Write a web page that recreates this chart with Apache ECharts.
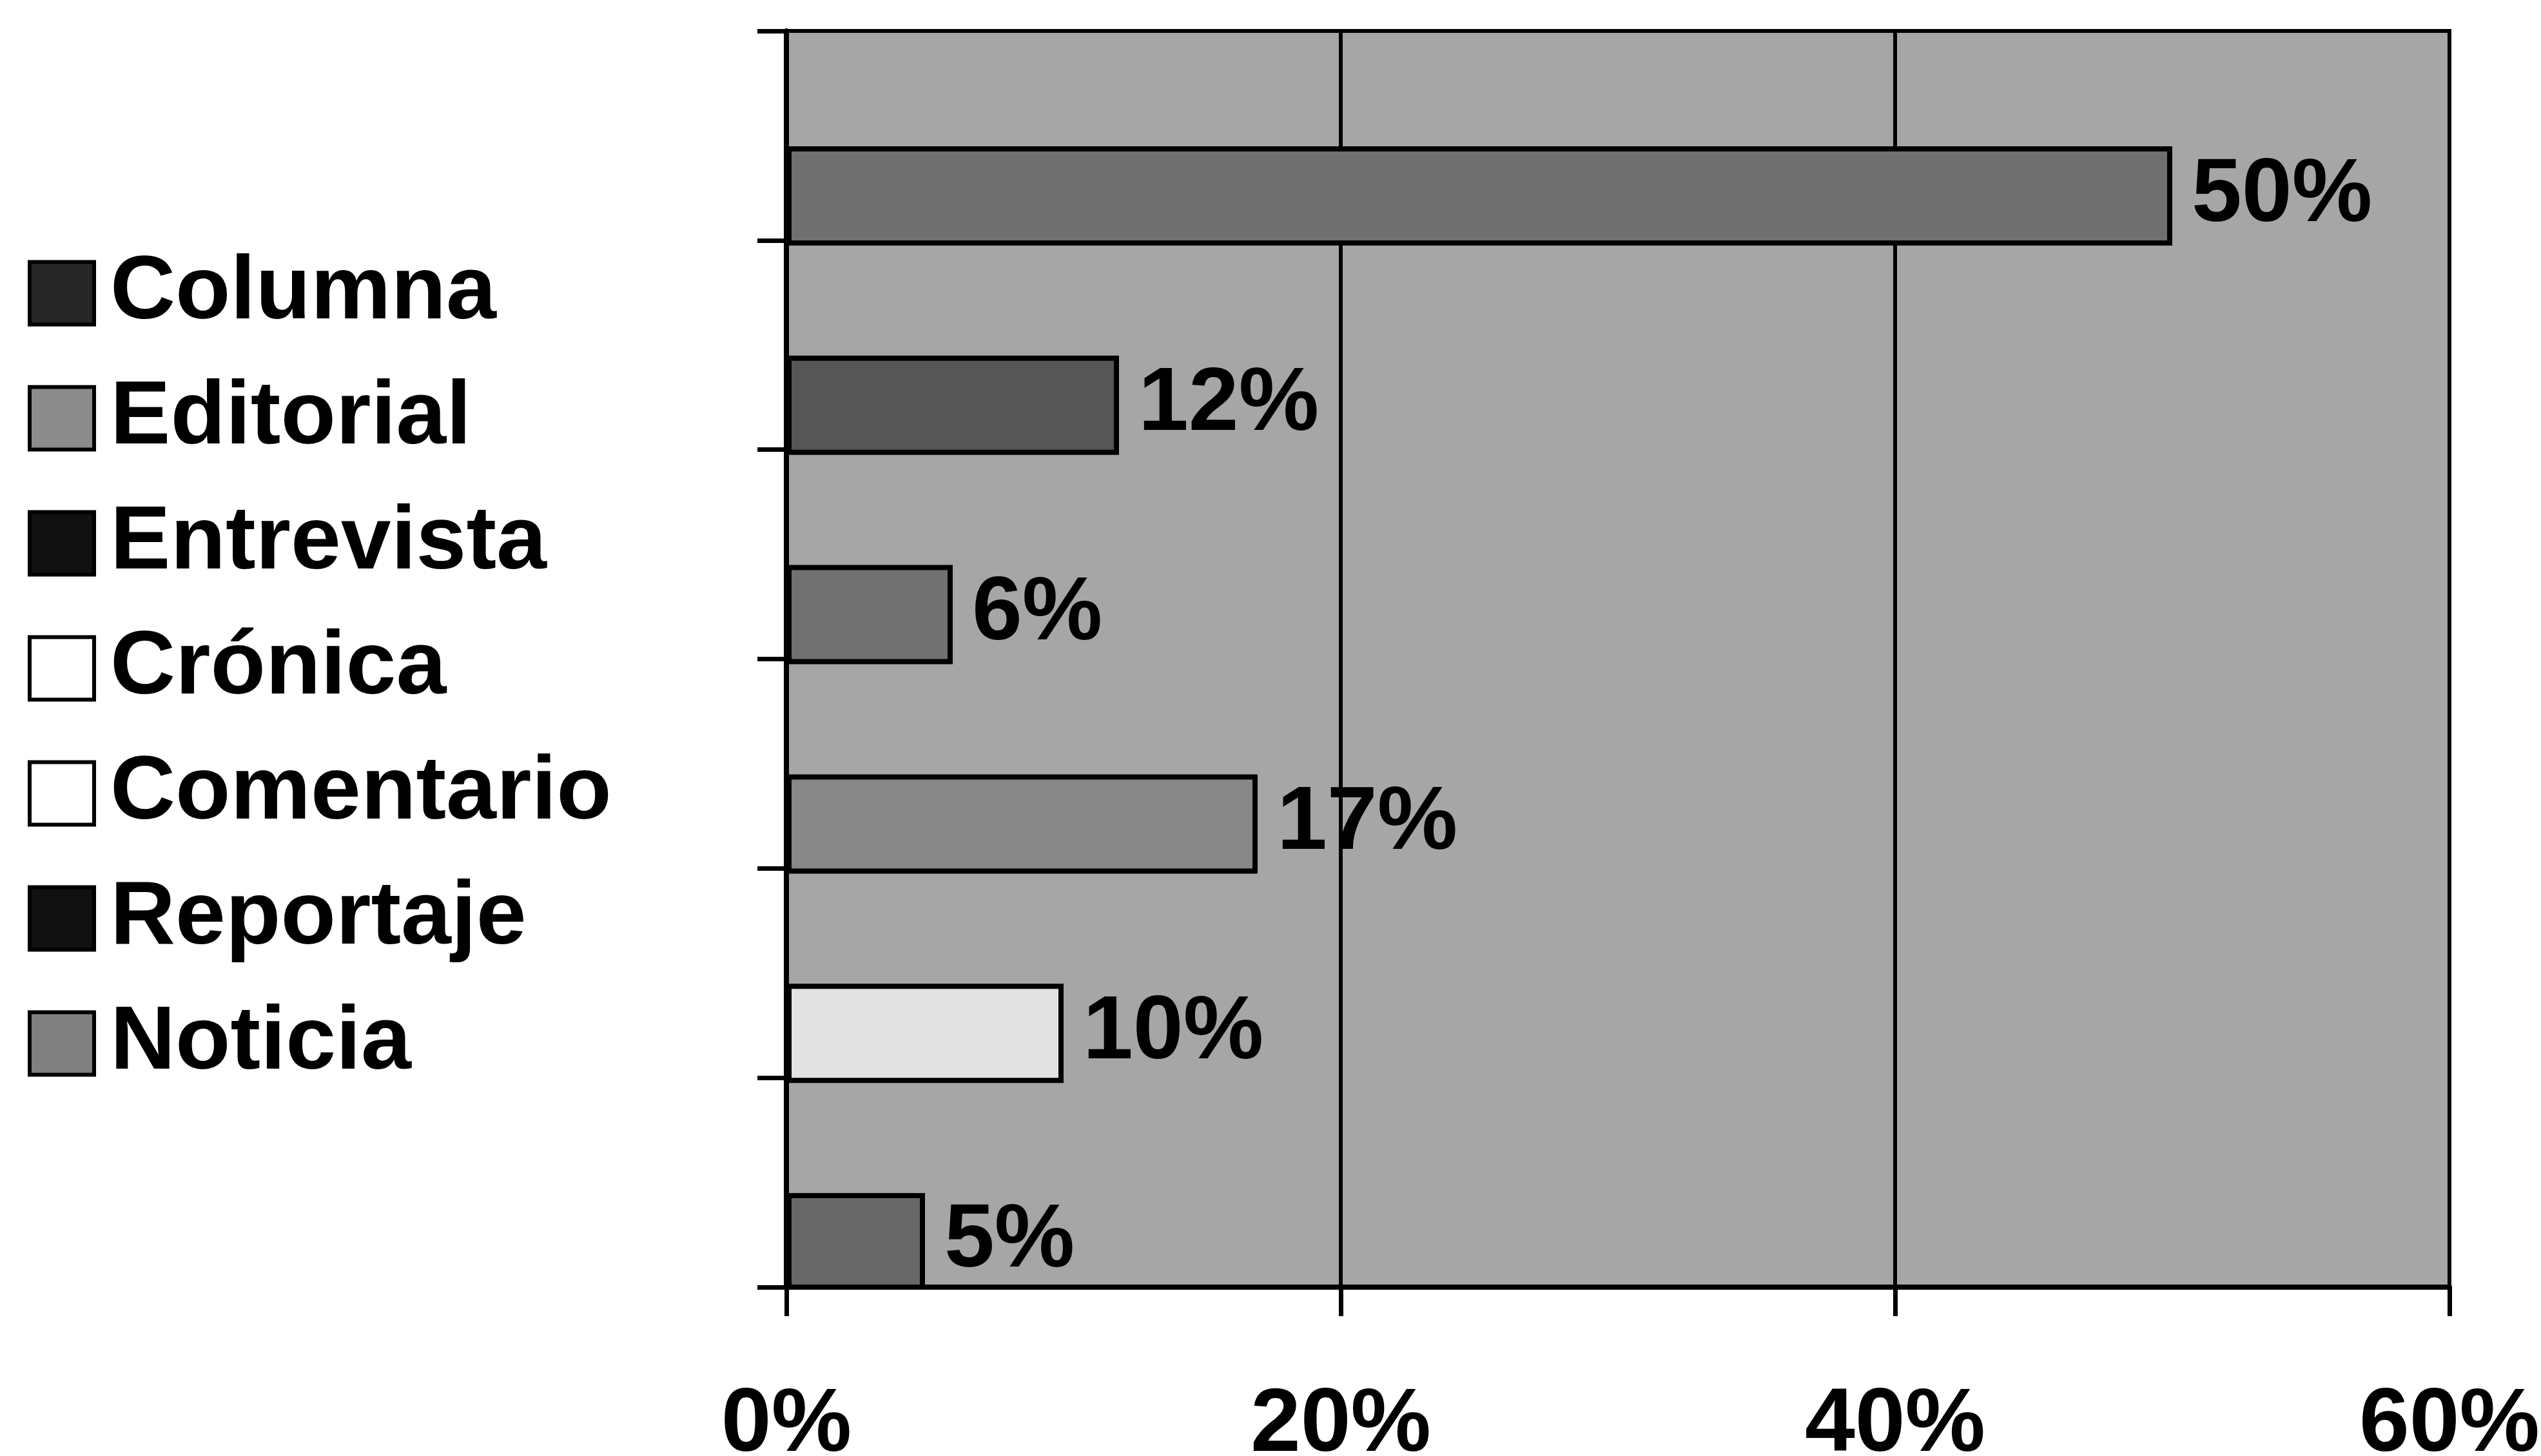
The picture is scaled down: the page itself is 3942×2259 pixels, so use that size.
<!DOCTYPE html>
<html>
<head>
<meta charset="utf-8">
<script src="https://cdn.jsdelivr.net/npm/echarts@6/dist/echarts.min.js"></script>
<style>
html,body{margin:0;padding:0;background:#fff;}
#chart{width:3942px;height:2259px;}
</style>
</head>
<body>
<div id="chart"></div>
<script>
// ---- data ----
const legendNames = ['Columna', 'Editorial', 'Entrevista', 'Crónica', 'Comentario', 'Reportaje', 'Noticia'];
const legendValues = [5, 17, 6, 10, 0, 12, 50];
// y categories, bottom to top
const categories = ['Columna', 'Crónica', 'Editorial', 'Entrevista', 'Reportaje', 'Noticia'];
const xTicks = [0, 20, 40, 60];

// ---- styles ----
const legendColors = ['#262626', '#8c8c8c', '#111111', '#ffffff', '#ffffff', '#111111', '#808080'];
const barColors = {
  'Columna': '#676767',
  'Crónica': '#e2e2e2',
  'Editorial': '#888888',
  'Entrevista': '#717171',
  'Reportaje': '#565656',
  'Noticia': '#707070'
};
const FONT = 'Liberation Sans, Arial, sans-serif';

const chart = echarts.init(document.getElementById('chart'), null, {renderer: 'canvas', devicePixelRatio: 1});

const series = [{
  name: '__pad',
  type: 'bar',
  silent: true,
  barWidth: 170,
  itemStyle: {opacity: 0},
  data: categories.map(() => '-')
}];
legendNames.forEach((name, i) => {
  series.push({
    name: name,
    type: 'bar',
    stack: 'g',
    barWidth: 154,
    itemStyle: {color: legendColors[i], borderColor: '#000', borderWidth: 8},
    label: {
      show: true,
      position: 'right',
      distance: 30,
      formatter: '{c}%',
      fontFamily: FONT,
      fontWeight: 'bold',
      fontSize: 140,
      color: '#000'
    },
    data: categories.map(c => c === name
      ? {value: legendValues[i], itemStyle: {color: barColors[c]}}
      : '-')
  });
});

chart.setOption({
  animation: false,
  backgroundColor: '#ffffff',
  grid: {
    left: 1220, right: 142, top: 48, bottom: 262,
    outerBoundsMode: 'none',
    containLabel: false,
    show: true,
    backgroundColor: '#a6a6a6',
    borderColor: '#000',
    borderWidth: 6
  },
  legend: {
    orient: 'vertical',
    left: 38,
    top: 380,
    itemGap: 54,
    itemWidth: 100,
    itemHeight: 97,
    icon: 'rect',
    selectedMode: false,
    textStyle: {
      fontFamily: FONT,
      fontWeight: 'bold',
      fontSize: 140,
      color: '#000',
      padding: [0, 0, 0, 20]
    },
    data: legendNames.map((n, i) => ({
      name: n,
      itemStyle: {color: legendColors[i], borderColor: '#000', borderWidth: 6}
    }))
  },
  xAxis: {
    type: 'value',
    min: xTicks[0],
    max: xTicks[xTicks.length - 1],
    interval: 20,
    axisLine: {show: true, lineStyle: {color: '#000', width: 8}},
    axisTick: {show: true, length: 45, lineStyle: {color: '#000', width: 7}},
    splitLine: {show: true, lineStyle: {color: '#000', width: 6}},
    axisLabel: {
      formatter: '{value}%',
      margin: 145,
      fontFamily: FONT,
      fontWeight: 'bold',
      fontSize: 140,
      color: '#000'
    }
  },
  yAxis: {
    type: 'category',
    data: categories,
    boundaryGap: true,
    axisLine: {show: true, lineStyle: {color: '#000', width: 8}},
    axisTick: {show: true, length: 45, lineStyle: {color: '#000', width: 7}},
    axisLabel: {show: false},
    splitLine: {show: false}
  },
  series: series
});
</script>
</body>
</html>
